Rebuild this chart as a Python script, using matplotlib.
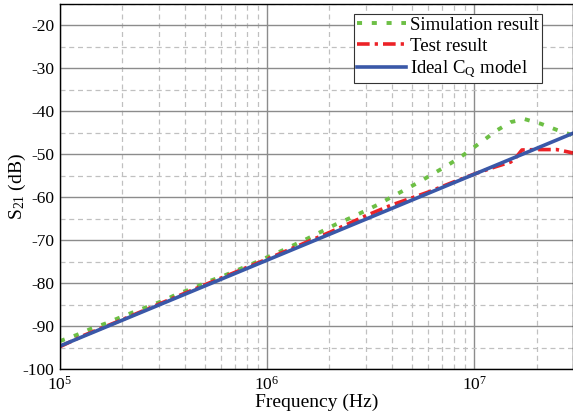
import numpy as np
import matplotlib
matplotlib.use("Agg")
import matplotlib.pyplot as plt
from matplotlib.ticker import MultipleLocator, LogLocator

plt.rcParams['font.family'] = ['Liberation Serif', 'DejaVu Serif']
plt.rcParams['mathtext.fontset'] = 'custom'
plt.rcParams['mathtext.rm'] = 'Liberation Serif'
plt.rcParams['mathtext.it'] = 'Liberation Serif:italic'
plt.rcParams['axes.unicode_minus'] = False

# simulation result (green dotted)
sim_f = [1e5, 1.2e5, 1.4e5, 1.66e5, 1.95e5, 2.28e5, 2.7e5, 3.2e5, 3.7e5, 4.4e5,
         5.15e5, 6.1e5, 8.4e5, 1.15e6, 1.57e6, 2.15e6, 2.5e6, 3e6, 3.5e6, 4e6,
         4.7e6, 5.4e6, 6.3e6, 7.3e6, 8.5e6, 9.7e6, 1.12e7, 1.29e7, 1.5e7, 1.75e7,
         2.1e7, 2.5e7, 3e7]
sim_db = [-93.5, -92.1, -90.7, -89.4, -88.0, -86.7, -85.35, -83.95, -82.5, -81.2,
          -79.7, -78.4, -75.6, -72.7, -69.6, -66.3, -64.9, -63.1, -61.5, -59.9,
          -58.1, -56.5, -54.6, -52.8, -50.8, -48.8, -46.6, -44.4, -42.5, -41.8,
          -42.9, -44.3, -45.6]

# test result (red dash-dot)
test_f = [1e5, 1.3e5, 2e5, 3e5, 5e5, 1e6, 2e6, 3e6, 4e6, 6e6, 8e6, 1e7,
          1.25e7, 1.5e7, 1.6e7, 1.7e7, 2e7, 2.5e7, 2.75e7, 3e7]
test_db = [-94.8, -92.2, -88.5, -84.9, -80.4, -74.4, -68.2, -64.3, -61.8, -58.8,
           -56.4, -54.6, -53.0, -51.8, -50.6, -49.0, -48.9, -48.9, -49.3, -49.7]

# ideal CQ model (blue solid)
ideal_f = [1e5, 1e6, 1e7, 3e7]
ideal_db = [-94.65, -74.65, -54.65, -45.1]

fig = plt.figure(figsize=(5.73, 4.16), dpi=100)
ax = fig.add_axes([60/573, 1-369/416, 1-60/573, 365/416])

ax.plot(sim_f, sim_db, color='#6dbf45', lw=2.8, dashes=(1.3, 2.5),
        dash_capstyle='butt', label='Simulation result')
ax.plot(test_f, test_db, color='#ec2227', lw=2.6, dashes=(3.5, 1.4, 0.9, 1.4),
        label='Test result')
ax.plot(ideal_f, ideal_db, color='#3a58a8', lw=2.6, label=r'Ideal C$_\mathrm{Q}$ model')

ax.set_xscale('log')
ax.set_xlim(1e5, 3e7)
ax.set_ylim(-100, -15)
ax.yaxis.set_major_locator(MultipleLocator(10))
ax.yaxis.set_minor_locator(MultipleLocator(5))
ax.xaxis.set_major_locator(LogLocator(base=10))
ax.xaxis.set_minor_locator(LogLocator(base=10, subs=np.arange(2, 10)))

ax.grid(True, which='major', color='#8c8c8c', lw=1.0, ls='-')
ax.grid(True, which='minor', color='#c0c0c0', lw=0.9, ls=(0, (4, 3)))
ax.set_axisbelow(True)

ax.tick_params(which='both', length=0)
ax.tick_params(axis='y', labelsize=12.5, pad=4)
ax.tick_params(axis='x', labelsize=12.5, pad=5)
ax.set_yticks(np.arange(-100, -19, 10))

for s in ax.spines.values():
    s.set_color('black')
    s.set_linewidth(1.0)

ax.set_xlabel('Frequency (Hz)', fontsize=14)
ax.xaxis.set_label_coords(0.5, (369-394)/365)
ax.set_ylabel(r'S$_{21}$ (dB)', fontsize=14)
ax.yaxis.set_label_coords((28-60)/513, 0.5)

leg = ax.legend(loc='upper right', bbox_to_anchor=((542-60)/513, (369-14)/365),
                borderaxespad=0, fontsize=13.5, fancybox=False, framealpha=1,
                edgecolor='#333333', handlelength=2.6, handletextpad=0.25,
                labelspacing=0.2, borderpad=0.15)
leg.get_frame().set_linewidth(0.8)

fig.savefig('out.png', dpi=100)
